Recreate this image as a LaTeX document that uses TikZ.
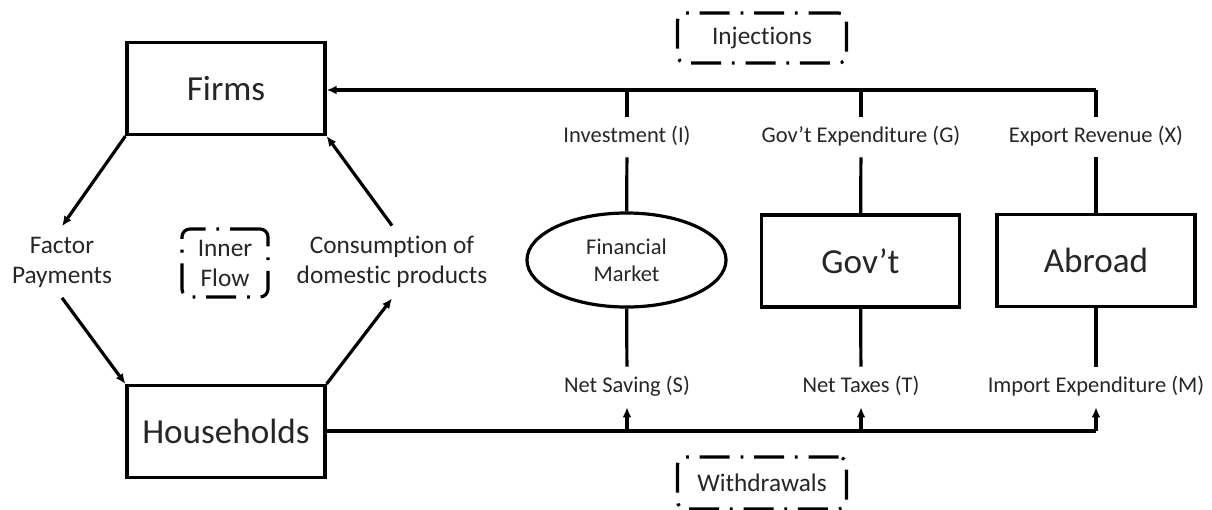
\documentclass[tikz,border=0pt]{standalone}
\usepackage{fontspec}
\setmainfont[Ligatures={TeX,NoCommon}]{Carlito}
\usetikzlibrary{positioning, arrows.meta, shapes.geometric}

\tikzset{
  sector/.style={draw, line width=0.08cm, minimum width=4.95cm, minimum height=2.3cm, inner sep=0pt, font=\fontsize{25}{30}\selectfont},
  flowlabel/.style={font=\fontsize{16}{19}\selectfont, text height=0.42cm, text depth=0.14cm, inner xsep=0.1cm, inner ysep=0.22cm},
  sidelabel/.style={font=\fontsize{18}{21.3}\selectfont, align=center, inner xsep=0.1cm, inner ysep=0.26cm},
  tagbox/.style={draw, line width=0.08cm, rounded corners=0.2cm, dash pattern=on 0.75cm off 0.27cm on 0.07cm off 0.27cm, align=center, font=\fontsize{18}{21.3}\selectfont},
  flow/.style={line width=0.08cm},
  arr/.style={flow, -{Latex[length=0.25cm, width=0.22cm]}}
}

\begin{document}
\begin{tikzpicture}[x=0.025cm, y=-0.025cm, text=black!85]
    \useasboundingbox (0,0) rectangle (1212,509);

    % Inner flow
    \node[sector] (firms) at (226,88.5) {Firms};
    \node[sector] (hh) at (226,431.5) {Households};
    \node[sidelabel] (factor) at (62,262) {Factor\\Payments};
    \node[sidelabel] (cons) at (392,262) {Consumption of\\domestic products};
    \node[tagbox, minimum width=2.15cm, minimum height=1.7cm] (inner) at (225,263) {Inner\\Flow};

    \draw[arr] (firms.south west) -- (factor.north);
    \draw[arr] (factor.south) -- (hh.north west);
    \draw[arr] (hh.north east) -- (cons.south);
    \draw[arr] (cons.north) -- (firms.south east);

    % Sectors outside the inner flow
    \node[draw, ellipse, line width=0.08cm, minimum width=4.975cm, minimum height=2.35cm, inner sep=0pt, align=center, font=\fontsize{16}{19}\selectfont] (fin) at (626.5,260) {Financial\\Market};
    \node[sector] (gov) at (860.5,261) {Gov’t};
    \node[sector] (abroad) at (1096,260.5) {Abroad};

    % Injections
    \node[tagbox, minimum width=4.225cm, minimum height=1.25cm] (inj) at (762,38) {Injections};
    \coordinate (jI) at (627,90);
    \coordinate (jG) at (861,90);
    \coordinate (jX) at (1096,90);
    \node[flowlabel] (inv) at (627,137) {Investment (I)};
    \node[flowlabel] (gexp) at (861,137) {Gov’t Expenditure (G)};
    \node[flowlabel] (exp) at (1096,137) {Export Revenue (X)};
    \draw[arr] (jX) -- (jX -| firms.east);
    \foreach \j/\l/\s in {jI/inv/fin, jG/gexp/gov, jX/exp/abroad} {
        \draw[flow] (\j) -- (\l);
        \draw[flow] (\l) -- (\s);
    }

    % Withdrawals
    \node[tagbox, minimum width=4.225cm, minimum height=1.3cm] (wdr) at (762,483) {Withdrawals};
    \coordinate (wI) at (627,431);
    \coordinate (wG) at (861,431);
    \coordinate (wX) at (1096,431);
    \node[flowlabel] (sav) at (627,387) {Net Saving (S)};
    \node[flowlabel] (tax) at (861,387) {Net Taxes (T)};
    \node[flowlabel] (imp) at (1096,387) {Import Expenditure (M)};
    \draw[flow] (wX -| hh.east) -- (wX);
    \foreach \j/\l/\s in {wI/sav/fin, wG/tax/gov, wX/imp/abroad} {
        \draw[flow] (\s) -- (\l);
        \draw[arr] (\j) -- (\l);
    }
\end{tikzpicture}
\end{document}
